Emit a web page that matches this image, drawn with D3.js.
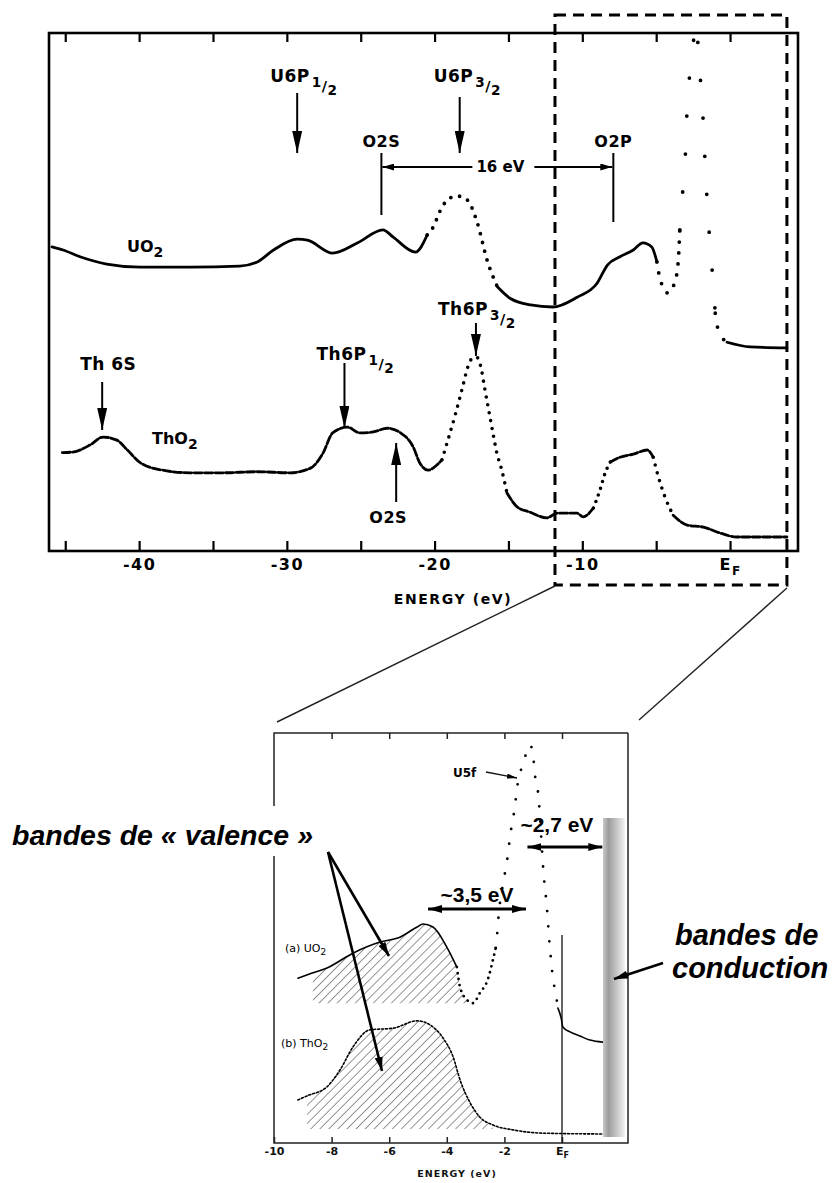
<!DOCTYPE html>
<html>
<head>
<meta charset="utf-8">
<script src="https://cdn.jsdelivr.net/npm/d3@7"></script>
<style>
  body { margin: 0; background: #fff; }
  svg { display: block; }
</style>
</head>
<body>
<svg id="chart" width="834" height="1183"></svg>
<script>
// ---------- Survey spectra (binding energy in eV, intensity in arbitrary units) ----------
const surveyUO2 = [
  [-45.9,58.7],[-45.15,58.1],[-44.0,56.8],[-42.2,55.4],[-39.9,54.8],[-36.55,54.8],[-33.2,55.0],
  [-32.0,55.8],[-30.9,58.1],[-29.3,60.2],[-28.6,60.0],[-26.9,57.5],[-25.2,59.5],[-23.5,62.0],
  [-22.8,60.6],[-21.3,57.7],[-20.5,61.0],[-20.1,62.5],[-19.6,65.8],[-19.0,68.1],[-18.4,68.5],
  [-17.8,67.8],[-17.1,63.3],[-16.45,56.2],[-15.75,51.0],[-14.9,48.8],[-13.5,47.5],[-12.0,47.1],
  [-10.35,49.0],[-9.0,51.7],[-8.3,55.2],[-7.45,56.8],[-6.55,58.1],[-5.9,59.5],[-5.3,58.7],
  [-4.95,55.8],[-4.75,52.7],[-4.2,49.8],[-3.7,52.3],[-3.5,56.2],[-3.4,62.0],[-3.2,69.5],
  [-3.0,78.0],[-2.9,85.9],[-2.65,93.6],[-2.45,99.0],[-2.3,102.0],[-2.1,94.4],[-1.85,84.7],
  [-1.65,72.6],[-1.4,61.0],[-1.15,51.9],[-1.0,45.9],[-0.8,42.7],[-0.2,40.3],[1.35,39.4],[3.85,39.2]
];
const surveyThO2 = [
  [-45.2,19.0],[-44.5,19.1],[-43.3,20.5],[-42.45,22.0],[-41.5,21.4],[-40.8,19.5],[-39.9,17.0],
  [-38.4,15.6],[-36.55,15.1],[-34.3,15.1],[-32.0,15.3],[-29.8,15.1],[-28.4,16.0],[-27.55,18.9],
  [-26.9,22.8],[-25.9,23.9],[-25.05,22.8],[-24.15,23.0],[-23.2,23.7],[-22.3,22.8],[-21.45,20.1],
  [-21.0,17.0],[-20.45,15.6],[-19.85,16.6],[-19.5,17.6],[-19.1,21.4],[-18.6,26.3],[-18.3,29.5],
  [-18.1,31.7],[-17.75,35.5],[-17.4,37.3],[-17.1,37.3],[-16.8,34.6],[-16.6,31.3],[-16.4,28.2],
  [-16.05,22.8],[-15.8,19.1],[-15.45,15.6],[-15.1,11.2],[-14.4,8.5],[-13.55,7.5],[-12.4,6.4],
  [-11.7,7.3],[-10.35,7.3],[-9.95,6.6],[-9.25,8.3],[-8.8,11.8],[-8.45,15.1],[-8.1,17.2],
  [-7.45,18.1],[-6.55,18.7],[-5.6,19.5],[-5.2,18.1],[-4.85,14.3],[-4.4,10.4],[-3.85,6.9],
  [-2.9,5.0],[-1.8,4.6],[-0.7,3.5],[0.45,2.7],[3.85,2.7]
];
// energy ranges plotted as separated points: [from, to, spacing]
const uo2DottedRanges  = [[-20.6,-15.6,9],[-5.0,-3.4,11],[-3.4,-1.0,38],[-1.0,-0.5,14]];
const tho2DottedRanges = [[-19.3,-15.2,8],[-9.3,-7.8,7],[-5.1,-3.7,8]];

const surveyTicks = [-45,-40,-35,-30,-25,-20,-15,-10,-5,0];
const surveyLabelTicks = [-40,-30,-20,-10,0];
const surveyLabelText = ["-40","-30","-20","-10","E"];

// core-level assignments
const uo2PeakNames = ["U6P","U6P"];
const uo2PeakSubs = ["1","3"];
const uo2PeakEnergies = [-29.3,-18.3];
const o2BracketNames = ["O2S","O2P"];
const o2BracketEnergies = [-23.6,-7.9];
const o2BracketText = "16 eV";
const tho2PeakNames = ["Th 6S","Th6P","Th6P"];
const tho2PeakSubs = [null,"1","3"];
const tho2PeakEnergies = [-42.5,-26.1,-17.2];
const tho2O2SEnergy = -22.6;
const zoomWindow = [-11.85,3.85];

// ---------- Valence-band close-up ----------
const valenceUO2 = [
  [-9.17,40.2],[-8.65,41.5],[-8.16,42.7],[-7.26,46.3],[-6.32,49.0],[-5.63,50.2],[-5.03,52.7],
  [-4.83,53.4],[-4.48,52.7],[-4.0,47.8],[-3.65,42.9],[-3.54,38.0],[-3.3,34.9],[-3.09,34.1],
  [-2.85,36.6],[-2.57,40.0],[-2.4,44.6],[-2.3,47.6],[-2.26,50.2],[-2.22,53.9],[-1.98,65.9],
  [-1.88,70.2],[-1.81,74.4],[-1.63,82.4],[-1.56,86.6],[-1.46,90.2],[-1.39,91.7],[-1.28,94.1],
  [-1.22,96.3],[-1.15,97.1],[-1.04,96.3],[-1.01,95.1],[-0.94,89.8],[-0.83,85.4],[-0.63,64.9],
  [-0.52,57.1],[-0.45,50.2],[-0.38,44.6],[-0.31,39.8],[-0.24,37.3],[-0.14,32.9],[-0.03,30.5],
  [0.03,28.3],[0.28,27.1],[0.62,26.1],[0.97,25.1],[1.42,24.6]
];
const valenceThO2 = [
  [-9.17,10.5],[-8.85,11.5],[-8.16,13.7],[-7.71,17.8],[-7.26,23.4],[-6.67,27.6],[-5.87,28.0],
  [-5.03,29.8],[-4.58,28.8],[-4.13,25.6],[-3.78,21.0],[-3.54,15.4],[-3.19,9.8],[-2.85,6.3],
  [-2.4,4.4],[-1.70,3.2],[-0.66,2.4],[1.42,2.2]
];
const valUO2DottedRanges = [[-3.6,-2.3,6],[-2.3,-0.1,15]];
const valenceTicks = [-10,-8,-6,-4,-2,0];
const valenceLabelText = ["-10","-8","-6","-4","-2","E"];
const hatchUO2 = { from: -8.65, to: -3.09, base: 34.1 };
const hatchThO2 = { from: -8.85, to: -2.2, base: 3.4 };
const gapUO2 = [-4.65, -1.25]; // ~3,5 eV
const gapU5f = [-1.2, 1.4];    // ~2,7 eV

const FONT = "'DejaVu Sans', sans-serif";
const ARIAL = "'Liberation Sans', Arial, sans-serif";

const svg = d3.select("#chart");
const defs = svg.append("defs");

function marker(id, len, wid) {
  defs.append("marker").attr("id", id).attr("markerUnits", "userSpaceOnUse")
    .attr("markerWidth", len).attr("markerHeight", wid)
    .attr("refX", len).attr("refY", wid / 2).attr("orient", "auto-start-reverse")
    .append("path").attr("d", `M0,0L${len},${wid / 2}L0,${wid}Z`).attr("fill", "#000");
}
marker("headBig", 22, 10);
marker("headMid", 14, 8);
marker("headSmall", 12, 7);
marker("headTiny", 10, 5);

const hatch = defs.append("pattern").attr("id", "hatch").attr("patternUnits", "userSpaceOnUse")
  .attr("width", 6.4).attr("height", 6.4).attr("patternTransform", "rotate(45)");
hatch.append("line").attr("x1", 0).attr("y1", 0).attr("x2", 0).attr("y2", 6.4)
  .attr("stroke", "#7a7a7a").attr("stroke-width", 1.6);

const grad = defs.append("linearGradient").attr("id", "barGrad").attr("x1", 0).attr("x2", 1).attr("y1", 0).attr("y2", 0);
[[0, "#c9c9c9"], [0.25, "#9c9c9c"], [1, "#f2f2f2"]].forEach(([o, c]) =>
  grad.append("stop").attr("offset", o).attr("stop-color", c));

// split a series into runs: continuous line or evenly spaced dots
function runs(pts, ranges) {
  const out = [];
  for (let i = 0; i < pts.length - 1; i++) {
    const mid = (pts[i][0] + pts[i + 1][0]) / 2;
    const r = ranges.find(r => mid >= r[0] && mid <= r[1]);
    const gap = r ? r[2] : 0;
    const last = out[out.length - 1];
    if (last && last.gap === gap) last.pts.push(pts[i + 1]);
    else out.push({ gap, pts: [pts[i], pts[i + 1]] });
  }
  return out;
}
function drawSeries(g, pts, ranges, x, y, style) {
  const line = d3.line().x(d => x(d[0])).y(d => y(d[1])).curve(d3.curveMonotoneX);
  runs(pts, ranges).forEach(r => {
    g.append("path").attr("d", line(r.pts)).attr("fill", "none").attr("stroke", "#000")
      .attr("stroke-linecap", "round").attr("stroke-linejoin", "round")
      .attr("stroke-width", r.gap ? style.dotW : style.w)
      .attr("stroke-dasharray", r.gap ? `0 ${r.gap}` : style.dash);
  });
}
function fracLabel(g, x, y, base, num, size, anchor) {
  const t = g.append("text").attr("x", x).attr("y", y).attr("font-family", FONT)
    .attr("font-weight", "bold").attr("font-size", size).attr("text-anchor", anchor || "start")
    .attr("letter-spacing", 0.5).text(base);
  if (num) {
    t.append("tspan").attr("font-size", size * 0.8).attr("dx", 2).attr("dy", size * 0.3).text(num);
    t.append("tspan").attr("font-size", size * 0.85).attr("dy", size * 0.2).text("/");
    t.append("tspan").attr("font-size", size * 0.8).attr("dy", size * 0.25).text("2");
  }
  return t;
}

// ================= Survey panel =================
const S = { x0: 49, x1: 798, y0: 33, y1: 551 };
const xS = d3.scaleLinear().domain([-46.1, 4.6]).range([S.x0, S.x1]);
const yS = d3.scaleLinear().domain([0, 100]).range([S.y1, S.y0]);

defs.append("clipPath").attr("id", "surveyClip").append("rect")
  .attr("x", S.x0).attr("y", S.y0).attr("width", S.x1 - S.x0).attr("height", S.y1 - S.y0);

const gS = svg.append("g");
gS.append("rect").attr("x", S.x0).attr("y", S.y0).attr("width", S.x1 - S.x0).attr("height", S.y1 - S.y0)
  .attr("fill", "none").attr("stroke", "#000").attr("stroke-width", 2.6);

const topAxis = d3.axisTop(xS).tickValues(surveyTicks).tickSize(-9).tickFormat("");
const gTop = gS.append("g").attr("transform", `translate(0,${S.y0})`).call(topAxis);
gTop.select(".domain").remove();
gTop.selectAll(".tick line").attr("stroke", "#000").attr("stroke-width", 2.2);

const bottomAxis = d3.axisBottom(xS).tickValues(surveyTicks).tickSize(-10).tickPadding(8)
  .tickFormat(d => { const i = surveyLabelTicks.indexOf(d); return i < 0 ? "" : surveyLabelText[i]; });
const gBot = gS.append("g").attr("transform", `translate(0,${S.y1})`).call(bottomAxis);
gBot.select(".domain").remove();
gBot.selectAll(".tick line").attr("stroke", "#000").attr("stroke-width", 2.2);
gBot.selectAll(".tick text").attr("font-family", FONT).attr("font-size", 16).attr("font-weight", "bold")
  .attr("fill", "#000").attr("letter-spacing", 1.5);
gBot.selectAll(".tick text").filter(d => d === 0)
  .append("tspan").attr("font-size", 12).attr("dy", "0.4em").text("F");

gS.append("text").attr("x", 453).attr("y", 604).attr("text-anchor", "middle").attr("font-family", FONT)
  .attr("font-weight", "bold").attr("font-size", 14).attr("letter-spacing", 1.6).text("ENERGY (eV)");

const gCurves = gS.append("g").attr("clip-path", "url(#surveyClip)");
drawSeries(gCurves, surveyUO2, uo2DottedRanges, xS, yS, { w: 2.8, dotW: 3.8, dash: null });
drawSeries(gCurves, surveyThO2, tho2DottedRanges, xS, yS, { w: 2.8, dotW: 3.6, dash: "8 2.5" });

// compound labels
const uo2Lbl = gS.append("text").attr("x", 127).attr("y", 252).attr("font-family", FONT)
  .attr("font-weight", "bold").attr("font-size", 16).text("UO");
uo2Lbl.append("tspan").attr("dy", 5).attr("font-size", 14).text("2");
const tho2Lbl = gS.append("text").attr("x", 152).attr("y", 444).attr("font-family", FONT)
  .attr("font-weight", "bold").attr("font-size", 16).text("ThO");
tho2Lbl.append("tspan").attr("dy", 5).attr("font-size", 14).text("2");

// UO2 core-level arrows
const uo2ArrowY = [[93, 153], [97, 153]];
const uo2TextDx = [-27, -26];
uo2PeakEnergies.forEach((e, i) => {
  const x = xS(e);
  fracLabel(gS, x + uo2TextDx[i], 82, uo2PeakNames[i], uo2PeakSubs[i], 17);
  gS.append("line").attr("x1", x).attr("x2", x).attr("y1", uo2ArrowY[i][0]).attr("y2", uo2ArrowY[i][1])
    .attr("stroke", "#000").attr("stroke-width", 2).attr("marker-end", "url(#headBig)");
});

// O 2s – O 2p separation bracket
const bx = o2BracketEnergies.map(e => xS(e));
const bLow = [215, 222];
o2BracketNames.forEach((n, i) => {
  gS.append("text").attr("x", bx[i]).attr("y", 147).attr("text-anchor", "middle").attr("font-family", FONT)
    .attr("font-weight", "bold").attr("font-size", 16).attr("letter-spacing", 0.5).text(n);
  gS.append("line").attr("x1", bx[i]).attr("x2", bx[i]).attr("y1", 153).attr("y2", bLow[i])
    .attr("stroke", "#000").attr("stroke-width", 2);
});
const bMid = (bx[0] + bx[1]) / 2 + 3;
gS.append("text").attr("x", bMid).attr("y", 172).attr("text-anchor", "middle").attr("font-family", FONT)
  .attr("font-weight", "bold").attr("font-size", 15).text(o2BracketText);
gS.append("line").attr("x1", bMid - 28).attr("x2", bx[0] + 1).attr("y1", 167).attr("y2", 167)
  .attr("stroke", "#000").attr("stroke-width", 2).attr("marker-end", "url(#headSmall)");
gS.append("line").attr("x1", bMid + 34).attr("x2", bx[1] - 1).attr("y1", 167).attr("y2", 167)
  .attr("stroke", "#000").attr("stroke-width", 2).attr("marker-end", "url(#headSmall)");

// ThO2 core-level arrows
const tho2TextPos = [[-22, 370], [-28, 360], [-38, 315]];
const tho2ArrowY = [[382, 430], [363, 428], [323, 356]];
tho2PeakEnergies.forEach((e, i) => {
  const x = xS(e);
  fracLabel(gS, x + tho2TextPos[i][0], tho2TextPos[i][1], tho2PeakNames[i], tho2PeakSubs[i], 17);
  gS.append("line").attr("x1", x).attr("x2", x).attr("y1", tho2ArrowY[i][0]).attr("y2", tho2ArrowY[i][1])
    .attr("stroke", "#000").attr("stroke-width", 2).attr("marker-end", "url(#headBig)");
});
const xO2S = xS(tho2O2SEnergy);
gS.append("line").attr("x1", xO2S).attr("x2", xO2S).attr("y1", 502).attr("y2", 443)
  .attr("stroke", "#000").attr("stroke-width", 2).attr("marker-end", "url(#headBig)");
gS.append("text").attr("x", xO2S - 8).attr("y", 523).attr("text-anchor", "middle").attr("font-family", FONT)
  .attr("font-weight", "bold").attr("font-size", 16).attr("letter-spacing", 0.5).text("O2S");

// zoom window and connectors
const zx0 = xS(zoomWindow[0]), zx1 = xS(zoomWindow[1]);
svg.append("rect").attr("x", zx0).attr("y", 15).attr("width", zx1 - zx0).attr("height", 570)
  .attr("fill", "none").attr("stroke", "#000").attr("stroke-width", 3).attr("stroke-dasharray", "11 7");
svg.append("line").attr("x1", zx0).attr("y1", 586).attr("x2", 277).attr("y2", 722)
  .attr("stroke", "#222").attr("stroke-width", 1.4);
svg.append("line").attr("x1", zx1).attr("y1", 588).attr("x2", 639).attr("y2", 720)
  .attr("stroke", "#222").attr("stroke-width", 1.4);

// ================= Valence panel =================
const V = { x0: 274, x1: 628, y0: 733, y1: 1143 };
const xV = d3.scaleLinear().domain([-10, 0]).range([274, 562]);
const yV = d3.scaleLinear().domain([0, 100]).range([V.y1, V.y0]);
const gV = svg.append("g");

// hatched valence-band areas
[[valenceUO2, hatchUO2], [valenceThO2, hatchThO2]].forEach(([pts, h]) => {
  const sel = pts.filter(d => d[0] >= h.from && d[0] <= h.to);
  gV.append("path")
    .attr("d", d3.area().x(d => xV(d[0])).y0(yV(h.base)).y1(d => yV(d[1])).curve(d3.curveMonotoneX)(sel))
    .attr("fill", "url(#hatch)");
});

gV.append("path").attr("d", `M${V.x1},${V.y0}H${V.x0}V${V.y1}H${V.x1}V${V.y0}`)
  .attr("fill", "none").attr("stroke", "#222").attr("stroke-width", 1.5);

const vTop = d3.axisTop(xV).tickValues(valenceTicks.slice(1)).tickSize(-6).tickFormat("");
const gvT = gV.append("g").attr("transform", `translate(0,${V.y0})`).call(vTop);
gvT.select(".domain").remove();
gvT.selectAll(".tick line").attr("stroke", "#222").attr("stroke-width", 1.5);
const vBot = d3.axisBottom(xV).tickValues(valenceTicks).tickSize(-6).tickPadding(4)
  .tickFormat((d, i) => valenceLabelText[i]);
const gvB = gV.append("g").attr("transform", `translate(0,${V.y1})`).call(vBot);
gvB.select(".domain").remove();
gvB.selectAll(".tick line").attr("stroke", "#222").attr("stroke-width", 1.5);
gvB.selectAll(".tick text").attr("font-family", FONT).attr("font-size", 11).attr("font-weight", "bold").attr("fill", "#111");
gvB.selectAll(".tick text").filter(d => d === 0).append("tspan").attr("font-size", 8).attr("dy", "0.4em").text("F");
gV.append("text").attr("x", 457).attr("y", 1177).attr("text-anchor", "middle").attr("font-family", FONT)
  .attr("font-weight", "bold").attr("font-size", 9.5).attr("letter-spacing", 1).attr("fill", "#111").text("ENERGY (eV)");

// Fermi level marker
gV.append("line").attr("x1", xV(0)).attr("x2", xV(0)).attr("y1", 935).attr("y2", V.y1)
  .attr("stroke", "#111").attr("stroke-width", 1.3);

drawSeries(gV, valenceUO2, valUO2DottedRanges, xV, yV, { w: 1.6, dotW: 2.8, dash: null });
drawSeries(gV, valenceThO2, [], xV, yV, { w: 1.6, dotW: 2.6, dash: "2 2" });

const la = gV.append("text").attr("x", 285).attr("y", 952).attr("font-family", FONT).attr("font-size", 11).text("(a) UO");
la.append("tspan").attr("dy", 3).attr("font-size", 9).text("2");
const lb = gV.append("text").attr("x", 281).attr("y", 1047).attr("font-family", FONT).attr("font-size", 11).text("(b) ThO");
lb.append("tspan").attr("dy", 3).attr("font-size", 9).text("2");

gV.append("text").attr("x", 453).attr("y", 777).attr("font-family", FONT).attr("font-weight", "bold")
  .attr("font-size", 12).text("U5f");
gV.append("line").attr("x1", 486).attr("y1", 772).attr("x2", 517).attr("y2", 778)
  .attr("stroke", "#111").attr("stroke-width", 1.4).attr("marker-end", "url(#headTiny)");

// conduction band edge
gV.append("rect").attr("x", 603).attr("y", 818).attr("width", 22).attr("height", 319).attr("fill", "url(#barGrad)");

// gap arrows
function gapArrow(e, y, label, ty, tdx) {
  const xa = xV(e[0]), xb = xV(e[1]);
  gV.append("line").attr("x1", xa).attr("x2", xb).attr("y1", y).attr("y2", y).attr("stroke", "#000")
    .attr("stroke-width", 3).attr("marker-start", "url(#headMid)").attr("marker-end", "url(#headMid)");
  gV.append("text").attr("x", (xa + xb) / 2 + tdx).attr("y", ty).attr("text-anchor", "middle")
    .attr("font-family", ARIAL).attr("font-weight", "bold").attr("font-size", 21).text(label);
}
gapArrow(gapU5f, 847, "~2,7 eV", 832, -8);
gapArrow(gapUO2, 909, "~3,5 eV", 902, 0);

// ================= Band captions =================
const cap = svg.append("g");
cap.append("rect").attr("x", 6).attr("y", 806).attr("width", 320).attr("height", 50).attr("fill", "#fff");
cap.append("text").attr("x", 12).attr("y", 845).attr("font-family", ARIAL).attr("font-style", "italic")
  .attr("font-weight", "bold").attr("font-size", 28.5).text("bandes de « valence »");
cap.append("line").attr("x1", 328).attr("y1", 852).attr("x2", 389).attr("y2", 956)
  .attr("stroke", "#000").attr("stroke-width", 2.6).attr("marker-end", "url(#headMid)");
cap.append("line").attr("x1", 328).attr("y1", 852).attr("x2", 382).attr("y2", 1071)
  .attr("stroke", "#000").attr("stroke-width", 2.6).attr("marker-end", "url(#headMid)");

cap.append("text").attr("x", 675).attr("y", 945).attr("font-family", ARIAL).attr("font-style", "italic")
  .attr("font-weight", "bold").attr("font-size", 29).text("bandes de");
cap.append("text").attr("x", 672).attr("y", 978).attr("font-family", ARIAL).attr("font-style", "italic")
  .attr("font-weight", "bold").attr("font-size", 29).text("conduction");
cap.append("line").attr("x1", 663).attr("y1", 963).attr("x2", 614).attr("y2", 979)
  .attr("stroke", "#000").attr("stroke-width", 2.6).attr("marker-end", "url(#headMid)");
</script>
</body>
</html>
